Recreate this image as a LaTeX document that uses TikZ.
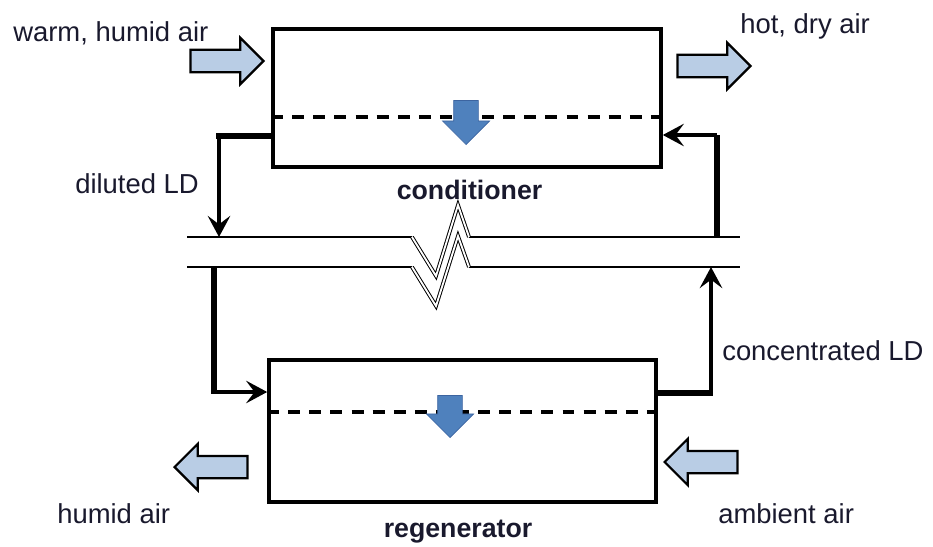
\documentclass[tikz,border=0pt]{standalone}
\usepackage{fontspec}
\setmainfont{Liberation Sans}
\usetikzlibrary{shapes.arrows,arrows.meta}
\definecolor{airblue}{RGB}{185,205,229}
\definecolor{flowblue}{RGB}{79,129,189}
\definecolor{flowedge}{RGB}{60,100,160}
\definecolor{txt}{RGB}{25,25,45}
\tikzset{
  unitbox/.style={draw, line width=2.5pt, inner sep=0pt},
  airarrow/.style={single arrow, draw, fill=airblue, line width=1.6pt, inner sep=0.25cm,
    minimum height=1.825cm, single arrow head extend=0.3cm, anchor=tip},
  flowarrow/.style={single arrow, draw=flowedge, fill=flowblue, line width=0.5pt, inner sep=0.3cm,
    minimum height=1.1cm, single arrow head extend=0.28cm, shape border rotate=270, anchor=tip},
  lbl/.style={font=\fontsize{19.5}{22}\selectfont, text=txt, inner sep=0pt},
  dline/.style={line width=2.6pt, dash pattern=on 8.5pt off 6.5pt},
  pipewall/.style={line width=1.1pt},
  brk/.style={double, double distance=1.3pt, line width=0.7pt},
  thickpipe/.style={line width=4.5pt},
  flowline/.style={line width=2.6pt, -{Stealth[length=15pt,width=16pt,inset=6pt]}}
}
\begin{document}
\begin{tikzpicture}[x=0.025cm, y=-0.025cm]
    \useasboundingbox (0,0) rectangle (933,546);
    \node[unitbox, minimum width=9.7cm, minimum height=3.45cm] (cond) at (467,98) {};
    \node[unitbox, minimum width=9.675cm, minimum height=3.55cm] (regen) at (462.5,431) {};
    \coordinate (conddash) at (0,117);
    \coordinate (regendash) at (0,412);
    \draw[dline] (cond.west |- conddash) -- (cond.east |- conddash);
    \draw[dline] (regen.west |- regendash) -- (regen.east |- regendash);
    \node[flowarrow] (condflow) at (466,145) {};
    \node[flowarrow, minimum height=1.05cm] (regenflow) at (450,438) {};

    \node[airarrow] (warmin) at (265,61) {};
    \node[airarrow] (hotout) at (752,66) {};
    \node[airarrow, shape border rotate=180] (humidout) at (173,467) {};
    \node[airarrow, shape border rotate=180] (ambientin) at (663,462) {};

    \node[lbl, anchor=base west] (lblwarm) at (13,42) {warm, humid air};
    \node[lbl, anchor=base west] (lblhot) at (740,33) {hot, dry air};
    \node[lbl, anchor=base west] (lbldiluted) at (75,193) {diluted LD};
    \node[lbl, anchor=base, font=\fontsize{19}{22}\selectfont\bfseries] (lblcond) at (469.5,199) {conditioner};
    \node[lbl, anchor=base west] (lblconc) at (722,360) {concentrated LD};
    \node[lbl, anchor=base west] (lblhumid) at (57,523) {humid air};
    \node[lbl, anchor=base, font=\fontsize{19}{22}\selectfont\bfseries] (lblregen) at (458,537) {regenerator};
    \node[lbl, anchor=base west] (lblambient) at (718,523) {ambient air};

    \coordinate (topL) at (187,237);
    \coordinate (topR) at (740,237);
    \coordinate (botL) at (187,267);
    \coordinate (botR) at (740,267);
    \draw[pipewall] (topL) -- (412,237);
    \draw[pipewall] (469,237) -- (topR);
    \draw[pipewall] (botL) -- (412,267);
    \draw[pipewall] (469,267) -- (botR);
    \draw[brk] (412,237) -- (436,276) -- (458,205) -- (469,237);
    \draw[brk] (412,267) -- (436,306) -- (458,236) -- (469,267);

    \coordinate (condout) at (219,136);
    \coordinate (condin) at (717,135);
    \coordinate (regenin) at (214,392);
    \coordinate (regenout) at (711,393);
    \draw[thickpipe] (cond.west |- condout) -- ([xshift=-2.1pt]condout);
    \draw[flowline] (condout) -- (condout |- topL);
    \draw[thickpipe] (condin |- topR) -- (condin);
    \draw[flowline] (condin) -- (cond.east |- condin);
    \draw[thickpipe] (regenin |- botL) -- (regenin);
    \draw[flowline] ([xshift=-2pt]regenin) -- (regen.west |- regenin);
    \draw[thickpipe] (regen.east |- regenout) -- ([xshift=1.2pt]regenout);
    \draw[flowline] (regenout) -- (regenout |- botR);
  \end{tikzpicture}
\end{document}
